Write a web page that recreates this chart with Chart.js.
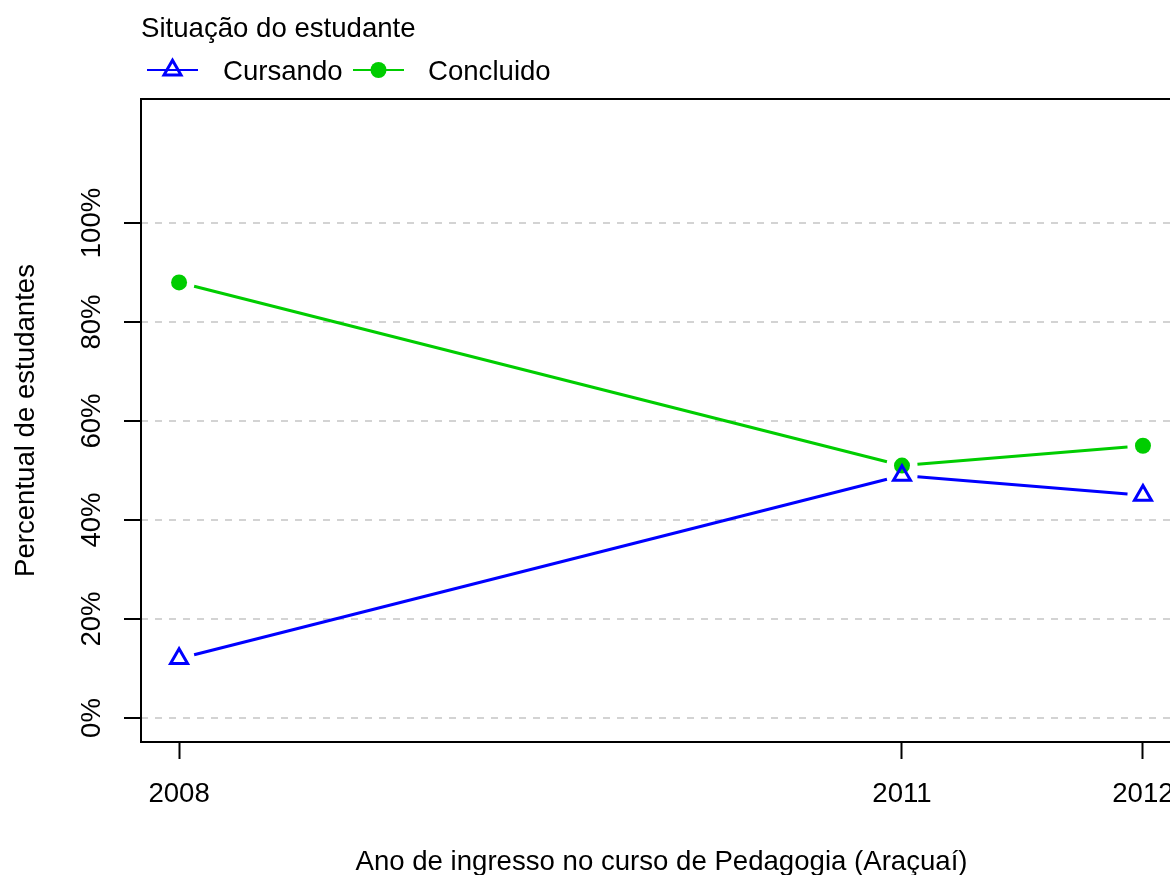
<!DOCTYPE html>
<html>
<head>
<meta charset="utf-8">
<script src="https://cdn.jsdelivr.net/npm/chart.js@4"></script>
<style>
  html, body { margin: 0; padding: 0; overflow: hidden; background: #fff; }
  #wrap { width: 1195px; height: 875px; }
</style>
</head>
<body>
<div id="wrap"><canvas id="chart" width="1195" height="875"></canvas></div>
<script>
// data
const years = [2008, 2011, 2012];
const cursando = [12, 49, 45];
const concluido = [88, 51, 55];
const yTicks = [0, 20, 40, 60, 80, 100];
const legendTitle = 'Situação do estudante';
const seriesNames = ['Cursando', 'Concluido'];
const xTitle = 'Ano de ingresso no curso de Pedagogia (Araçuaí)';
const yTitle = 'Percentual de estudantes';

const BLUE = '#0000FF';
const GREEN = '#00CD00';
const FONT = '27.6px "Liberation Sans", Arial, sans-serif';
const LINE_W = 3;
const TRI_R = 9.8;

// R type="b": line segments stop short of each point
const gappedLines = {
  id: 'gappedLines',
  beforeDatasetsDraw(chart) {
    const ctx = chart.ctx;
    const gap = 15.5;
    for (let d = chart.data.datasets.length - 1; d >= 0; d--) {
      const pts = chart.getDatasetMeta(d).data;
      ctx.save();
      ctx.strokeStyle = chart.data.datasets[d].borderColor;
      ctx.lineWidth = LINE_W;
      for (let i = 0; i < pts.length - 1; i++) {
        const a = pts[i], b = pts[i + 1];
        const dx = b.x - a.x, dy = b.y - a.y;
        const len = Math.hypot(dx, dy);
        if (len <= gap * 2) continue;
        const ux = dx / len, uy = dy / len;
        ctx.beginPath();
        ctx.moveTo(a.x + ux * gap, a.y + uy * gap);
        ctx.lineTo(b.x - ux * gap, b.y - uy * gap);
        ctx.stroke();
      }
      ctx.restore();
    }
  }
};

const decorations = {
  id: 'decorations',
  afterDraw(chart) {
    const ctx = chart.ctx;
    const area = chart.chartArea;
    const xs = chart.scales.x, ys = chart.scales.y;
    ctx.save();
    // box
    ctx.strokeStyle = '#000';
    ctx.lineWidth = 2;
    ctx.strokeRect(area.left, area.top, area.right - area.left, area.bottom - area.top);

    ctx.fillStyle = '#000';
    ctx.font = FONT;
    // x tick labels
    ctx.textAlign = 'center';
    ctx.textBaseline = 'alphabetic';
    years.forEach(v => ctx.fillText(String(v), xs.getPixelForValue(v), 802));
    // y tick labels, rotated
    yTicks.forEach(v => {
      ctx.save();
      ctx.translate(100, ys.getPixelForValue(v));
      ctx.rotate(-Math.PI / 2);
      ctx.fillText(v + '%', 0, 0);
      ctx.restore();
    });
    // axis titles
    ctx.fillText(xTitle, (area.left + area.right) / 2, 870);
    ctx.save();
    ctx.translate(34, (area.top + area.bottom) / 2);
    ctx.rotate(-Math.PI / 2);
    ctx.fillText(yTitle, 0, 0);
    ctx.restore();

    // legend
    ctx.textAlign = 'left';
    ctx.fillText(legendTitle, 141, 37);
    const ly = 70;
    // Cursando
    ctx.strokeStyle = BLUE;
    ctx.lineWidth = 2;
    ctx.beginPath(); ctx.moveTo(147, ly); ctx.lineTo(198, ly); ctx.stroke();
    ctx.lineWidth = LINE_W;
    ctx.beginPath();
    for (let k = 0; k < 3; k++) {
      const a = k * 2 * Math.PI / 3;
      const px = 172.5 + Math.sin(a) * TRI_R, py = ly - Math.cos(a) * TRI_R;
      if (k === 0) ctx.moveTo(px, py); else ctx.lineTo(px, py);
    }
    ctx.closePath(); ctx.stroke();
    ctx.fillText(seriesNames[0], 223, 80);
    // Concluido
    ctx.strokeStyle = GREEN;
    ctx.fillStyle = GREEN;
    ctx.lineWidth = 2;
    ctx.beginPath(); ctx.moveTo(353, ly); ctx.lineTo(404, ly); ctx.stroke();
    ctx.beginPath(); ctx.arc(378.5, ly, 8, 0, Math.PI * 2); ctx.fill();
    ctx.fillStyle = '#000';
    ctx.fillText(seriesNames[1], 428, 80);
    ctx.restore();
  }
};

new Chart(document.getElementById('chart'), {
  type: 'line',
  data: {
    datasets: [
      {
        label: seriesNames[0],
        data: years.map((y, i) => ({ x: y, y: cursando[i] })),
        borderColor: BLUE,
        backgroundColor: 'rgba(0,0,0,0)',
        showLine: false,
        pointStyle: 'triangle',
        pointRadius: TRI_R,
        pointBorderWidth: LINE_W,
        pointBorderColor: BLUE,
        pointBackgroundColor: 'rgba(0,0,0,0)'
      },
      {
        label: seriesNames[1],
        data: years.map((y, i) => ({ x: y, y: concluido[i] })),
        borderColor: GREEN,
        backgroundColor: GREEN,
        showLine: false,
        pointStyle: 'circle',
        pointRadius: 8,
        pointBorderWidth: 0,
        pointBackgroundColor: GREEN
      }
    ]
  },
  options: {
    responsive: false,
    animation: false,
    devicePixelRatio: 1,
    layout: { padding: { top: 99, right: 13, left: 0, bottom: 0 } },
    plugins: { legend: { display: false }, tooltip: { enabled: false } },
    scales: {
      x: {
        type: 'linear',
        min: 2007.842,
        max: 2012.162,
        afterBuildTicks: s => { s.ticks = years.map(v => ({ value: v })); },
        afterFit: s => { s.height = 133; },
        ticks: { display: false },
        grid: { drawOnChartArea: false, drawTicks: true, tickLength: 17, tickColor: '#000', tickWidth: 2 },
        border: { display: false }
      },
      y: {
        min: -4.85,
        max: 125.05,
        afterBuildTicks: s => { s.ticks = yTicks.map(v => ({ value: v })); },
        afterFit: s => { s.width = 141; },
        ticks: { display: false },
        grid: {
          drawOnChartArea: true, drawTicks: true, tickLength: 17,
          color: '#d3d3d3', lineWidth: 2,
          tickColor: '#000', tickWidth: 2, tickBorderDash: []
        },
        border: { display: false, dash: [7, 7] }
      }
    }
  },
  plugins: [gappedLines, decorations]
});
</script>
</body>
</html>
